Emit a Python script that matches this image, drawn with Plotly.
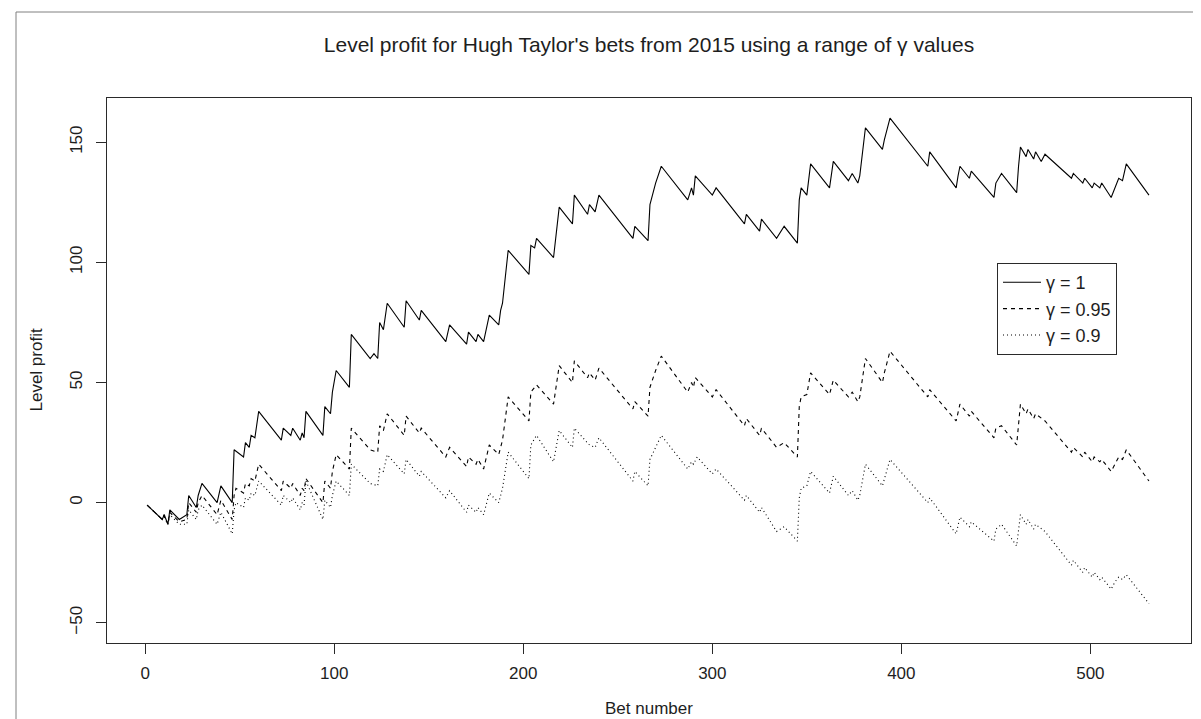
import plotly.graph_objects as go

# ---- data (bet number, level profit) ----
bet_g100 = [1, 9, 10, 12, 13, 18, 22, 23, 27, 28, 30, 38, 40, 46, 47, 52, 53, 55, 56, 58, 60,
            72, 73, 77, 78, 82, 83, 84, 85, 94, 95, 98, 99, 101, 108, 109, 119, 121, 123, 124,
            126, 128, 137, 138, 145, 146, 159, 161, 170, 171, 175, 176, 179, 182, 187, 188, 189,
            192, 203, 204, 206, 207, 216, 219, 226, 227, 234, 235, 238, 240, 258, 259, 266, 267,
            270, 273, 287, 289, 290, 291, 300, 302, 317, 318, 325, 326, 334, 338, 345, 346, 347,
            350, 352, 362, 364, 372, 374, 377, 378, 381, 390, 391, 394, 414, 415, 429, 430, 431,
            436, 437, 449, 450, 453, 461, 462, 463, 466, 467, 470, 471, 474, 476, 490, 491, 496,
            497, 501, 502, 505, 506, 511, 513, 515, 517, 519, 531]
profit_g100 = [-1, -7, -5, -9, -3, -7, -5, 3, -2, 3, 8, 0, 7, 0, 22, 19, 25, 23, 28, 27, 38,
               26, 31, 28, 31, 26, 29, 27, 38, 28, 40, 37, 46, 55, 48, 70, 60, 62, 60, 75,
               72, 83, 73, 84, 76, 80, 67, 74, 66, 71, 67, 70, 67, 78, 74, 80, 83,
               105, 95, 107, 106, 110, 102, 123, 116, 128, 120, 124, 121, 128, 110, 115, 109, 124,
               133, 140, 126, 131, 128, 136, 128, 131, 116, 120, 113, 118, 110, 115, 108, 126, 131,
               128, 141, 131, 142, 134, 137, 133, 136, 156, 147, 151, 160, 140, 146, 131, 136, 140,
               135, 138, 127, 133, 137, 129, 140, 148, 144, 147, 143, 146, 142, 145, 135, 137, 133,
               135, 131, 133, 131, 133, 127, 131, 135, 134, 141, 128]

bet_g095 = [1, 9, 10, 12, 13, 18, 22, 23, 27, 28, 30, 38, 40, 46, 47, 48, 52, 53, 55, 56, 58, 60,
            72, 73, 77, 78, 82, 83, 84, 85, 94, 95, 98, 99, 101, 108, 109, 119, 123, 124, 126,
            128, 137, 138, 145, 146, 159, 161, 170, 171, 175, 176, 179, 182, 187, 188, 189, 192,
            203, 204, 207, 216, 219, 226, 227, 234, 235, 238, 240, 258, 259, 266, 267, 270, 273,
            287, 289, 290, 291, 300, 302, 317, 318, 325, 326, 334, 338, 345, 346, 347, 350, 352,
            362, 364, 372, 374, 377, 378, 381, 390, 391, 394, 414, 415, 429, 431, 436, 437, 449,
            450, 453, 461, 463, 466, 467, 470, 471, 476, 490, 491, 496, 497, 501, 502, 505, 506,
            511, 513, 515, 517, 519, 531]
profit_g095 = [-1, -7, -5, -9, -4, -8, -7, 0, -4, 0, 3, -5, 1, -7, 3, 6, 4, 8, 7, 10, 9, 16,
               5, 9, 6, 8, 3, 6, 5, 10, 0, 9, 6, 13, 20, 14, 31, 22, 21, 32, 30,
               37, 28, 36, 29, 31, 19, 23, 15, 19, 16, 18, 14, 24, 20, 23, 26, 44,
               34, 46, 49, 41, 57, 50, 59, 52, 54, 51, 56, 39, 42, 36, 48, 55, 61,
               46, 50, 48, 52, 44, 47, 32, 35, 28, 31, 23, 25, 19, 40, 44, 45, 54,
               45, 51, 44, 46, 42, 44, 60, 50, 54, 63, 44, 47, 34, 41, 36, 38, 27,
               31, 32, 24, 41, 37, 39, 35, 37, 34, 21, 23, 19, 21, 17, 19, 17, 18,
               13, 16, 19, 18, 22, 9]

bet_g090 = [1, 9, 10, 12, 13, 18, 22, 23, 27, 28, 30, 38, 40, 46, 47, 48, 52, 53, 55, 56, 58, 60,
            72, 73, 77, 78, 82, 83, 84, 85, 94, 95, 98, 99, 101, 108, 109, 119, 123, 124, 126,
            128, 137, 138, 145, 146, 159, 161, 170, 171, 175, 176, 179, 182, 187, 188, 189, 192,
            203, 204, 207, 216, 219, 226, 227, 235, 238, 240, 258, 259, 266, 267, 270, 273,
            287, 289, 290, 292, 300, 302, 317, 318, 325, 326, 334, 338, 345, 346, 347, 350, 352,
            362, 364, 372, 374, 377, 378, 381, 390, 391, 394, 414, 415, 429, 431, 436, 437, 449,
            450, 453, 461, 463, 466, 467, 470, 471, 476, 490, 491, 496, 497, 501, 502, 505, 506,
            511, 513, 515, 517, 519, 531]
profit_g090 = [-1, -7, -6, -9, -5, -9, -9, -3, -7, -3, -1, -9, -4, -13, -3, 0, -2, 2, 1, 4, 3, 9,
               -1, 3, 0, 2, -3, 0, -1, 9, -7, 1, -2, 3, 9, 3, 16, 8, 7, 14, 13,
               20, 12, 18, 11, 13, 2, 5, -4, -1, -4, -2, -5, 4, 0, 3, 6, 21,
               10, 24, 28, 17, 30, 23, 31, 24, 23, 27, 9, 13, 7, 18, 23, 28,
               14, 17, 16, 19, 12, 14, 1, 3, -4, -2, -12, -10, -16, 2, 6, 7, 13,
               4, 11, 3, 5, 1, 3, 16, 7, 10, 18, 0, 2, -13, -6, -10, -8, -16,
               -11, -9, -18, -5, -9, -7, -11, -9, -12, -26, -24, -29, -27, -31, -29, -32, -31,
               -36, -33, -31, -32, -30, -42]

series_names = ["\u03b3 = 1", "\u03b3 = 0.95", "\u03b3 = 0.9"]
x_ticks = [0, 100, 200, 300, 400, 500]
y_ticks = [-50, 0, 50, 100, 150]

FONT = "Liberation Sans, Arial, sans-serif"
INK = "#1e1e1e"

fig = go.Figure()
styles = ["solid", "4px,4px", "1px,3px"]
for name, xs, ys, dash in zip(series_names,
                              [bet_g100, bet_g095, bet_g090],
                              [profit_g100, profit_g095, profit_g090],
                              styles):
    fig.add_trace(go.Scatter(x=xs, y=ys, mode="lines", name=name,
                             line=dict(color="black", width=1.1, dash=dash)))

axis_common = dict(showline=True, mirror=True, linecolor="#2a2a2a", linewidth=1,
                   ticks="outside", ticklen=10, tickwidth=1, tickcolor="#2a2a2a",
                   showgrid=False, zeroline=False,
                   tickfont=dict(family=FONT, size=17, color=INK))

# plot box: x 99..1183, y 90..635 px
fig.update_layout(
    width=1201, height=719, autosize=False,
    margin=dict(l=99, r=18, t=90, b=84),
    paper_bgcolor="white", plot_bgcolor="white",
    font=dict(family=FONT, color=INK),
    title=dict(text="Level profit for Hugh Taylor's bets from 2015 using a range of \u03b3 values",
               x=0.5, xref="paper", xanchor="center",
               y=1 - 37 / 719, yref="container", yanchor="middle",
               font=dict(family=FONT, size=21, color=INK)),
    xaxis=dict(range=[-20.24, 553.24], tickvals=x_ticks, ticklabelstandoff=5, **axis_common),
    yaxis=dict(range=[-58.4, 168.4], tickvals=y_ticks, tickangle=-90, ticklabelstandoff=7,
               **axis_common),
    legend=dict(x=(989 - 99) / 1084, y=(635 - 255) / 545, xanchor="left", yanchor="top",
                bordercolor="#2a2a2a", borderwidth=1, bgcolor="white",
                font=dict(family=FONT, size=18, color=INK),
                tracegroupgap=0, itemwidth=38),
    showlegend=True,
)

fig.add_annotation(text="Level profit", xref="paper", yref="paper",
                   x=(28 - 99) / 1084, y=0.5, textangle=-90, showarrow=False,
                   xanchor="center", yanchor="middle",
                   font=dict(family=FONT, size=17, color=INK))
fig.add_annotation(text="Bet number", xref="paper", yref="paper",
                   x=0.5, y=(635 - 700) / 545, showarrow=False,
                   xanchor="center", yanchor="middle",
                   font=dict(family=FONT, size=17, color=INK))

# outer frame of the screenshot
fig.add_shape(type="line", xref="paper", yref="paper",
              x0=(8 - 99) / 1084, x1=(8 - 99) / 1084, y0=(635 - 4) / 545, y1=(635 - 730) / 545,
              line=dict(color="#808080", width=1))
fig.add_shape(type="line", xref="paper", yref="paper",
              x0=(8 - 99) / 1084, x1=(1210 - 99) / 1084, y0=(635 - 4) / 545, y1=(635 - 4) / 545,
              line=dict(color="#808080", width=1))

fig.write_html("out.html")
